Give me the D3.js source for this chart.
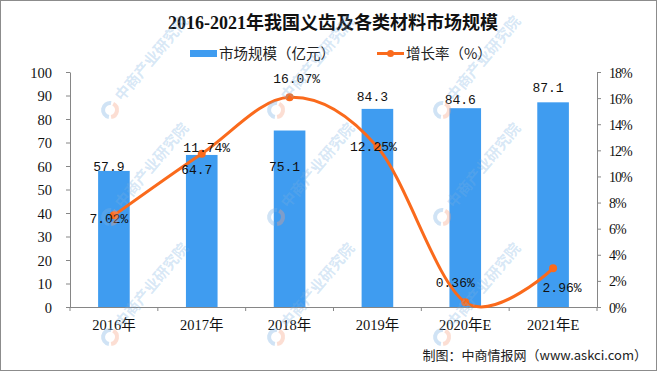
<!DOCTYPE html>
<html><head><meta charset="utf-8">
<script src="https://cdn.jsdelivr.net/npm/d3@7"></script>
<style>html,body{margin:0;padding:0;background:#fff;}svg{display:block;}</style>
</head><body>
<svg id="c" width="657" height="371"></svg>
<script>
const categories = ["2016年","2017年","2018年","2019年","2020年E","2021年E"];
const marketSize = [57.9, 64.7, 75.1, 84.3, 84.6, 87.1];
const growthRate = [7.02, 11.74, 16.07, 12.25, 0.36, 2.96];
const leftTicks = [0,10,20,30,40,50,60,70,80,90,100];
const rightTicks = [0,2,4,6,8,10,12,14,16,18];
const title = "2016-2021年我国义齿及各类材料市场规模";
const legendBar = "市场规模（亿元）";
const legendLine = "增长率（%）";
const source = "制图：中商情报网（www.askci.com）";

const BAR = "#3f9cf0", LINE = "#fa6a1c", AXIS = "#868686";
const svg = d3.select("#c");
svg.append("rect").attr("x",0.5).attr("y",0.5).attr("width",656).attr("height",370)
  .attr("fill","#fff").attr("stroke","#8c8c8c").attr("stroke-width",1);

const L = 70, R = 597, B = 307, T = 72;
const x = d3.scaleBand().domain(categories).range([L,R]).paddingInner(0.64).paddingOuter(0.32);
const yL = d3.scaleLinear().domain([0,100]).range([B,T]);
const yR = d3.scaleLinear().domain([0,18]).range([B,T]);
const cx = d => x(d) + x.bandwidth()/2;

const numFont = "'Liberation Mono', 'DejaVu Sans Mono', monospace";
const axFont = "'Liberation Serif', 'Noto Sans CJK SC', serif";
const cjk = "'Noto Sans CJK SC', sans-serif";

// watermark (decorative, drawn first then overlaid lightly)
function watermark(){
  const wm = svg.append("g").attr("pointer-events","none");
  const cols = [110, 276, 442], rows = [110, 217, 337];
  rows.forEach(ry=>cols.forEach(cxw=>{
    const g = wm.append("g").attr("transform",`translate(${cxw},${ry})`);
    const arc = d3.arc().innerRadius(5).outerRadius(9);
    g.append("path").attr("d",arc({startAngle:Math.PI*0.15,endAngle:Math.PI*0.95})).attr("fill","rgba(245,160,130,0.35)");
    g.append("path").attr("d",arc({startAngle:Math.PI*1.05,endAngle:Math.PI*2.05})).attr("fill","rgba(120,175,225,0.35)");
    g.append("text").attr("transform","translate(12,-8) rotate(-50)")
      .attr("font-family",cjk).attr("font-weight","bold").attr("font-size",15).attr("fill","rgba(120,175,225,0.3)")
      .text("中商产业研究院");
  }));
}

// title
svg.append("text").attr("x",333).attr("y",29).attr("text-anchor","middle")
  .attr("font-family","'Liberation Serif','Noto Sans CJK SC',serif").attr("font-weight","bold")
  .attr("font-size",18).attr("fill","#111").text(title);

// legend
svg.append("rect").attr("x",190).attr("y",50).attr("width",27).attr("height",7).attr("fill",BAR);
svg.append("text").attr("x",219).attr("y",59).attr("font-family",cjk).attr("font-size",14.5).attr("fill","#222").text(legendBar);
svg.append("line").attr("x1",377).attr("x2",404).attr("y1",53.5).attr("y2",53.5).attr("stroke",LINE).attr("stroke-width",3);
svg.append("circle").attr("cx",390.5).attr("cy",53.5).attr("r",3.5).attr("fill",LINE);
svg.append("text").attr("x",406).attr("y",59).attr("font-family",cjk).attr("font-size",14.5).attr("fill","#222").text(legendLine);

// bars
svg.append("g").selectAll("rect").data(categories).join("rect")
  .attr("x",d=>x(d)).attr("width",x.bandwidth())
  .attr("y",(d,i)=>yL(marketSize[i])).attr("height",(d,i)=>B-yL(marketSize[i]))
  .attr("fill",BAR);

// axes
function styleAxis(g){
  g.selectAll(".domain").attr("stroke",AXIS);
  g.selectAll(".tick line").attr("stroke",AXIS);
  g.selectAll("text").attr("fill","#111").attr("font-family",axFont).attr("font-size",14.5);
}
svg.append("g").attr("transform",`translate(${L},0)`)
  .call(d3.axisLeft(yL).tickValues(leftTicks).tickSize(4).tickSizeOuter(0).tickPadding(14))
  .call(styleAxis).call(g=>g.selectAll("text").attr("dy","0.36em"));
svg.append("g").attr("transform",`translate(${R},0)`)
  .call(d3.axisRight(yR).tickValues(rightTicks).tickSize(4).tickSizeOuter(0).tickPadding(8).tickFormat(d=>d+"%"))
  .call(styleAxis).call(g=>g.selectAll("text").attr("font-size",14).attr("letter-spacing","-1px").attr("dy","0.36em"));
// x axis
const xg = svg.append("g");
xg.append("line").attr("x1",L).attr("x2",R).attr("y1",B+0.5).attr("y2",B+0.5).attr("stroke",AXIS);
const bounds = d3.range(categories.length+1).map(i=> L + i*x.step());
xg.selectAll("line.t").data(bounds).join("line").attr("class","t")
  .attr("x1",d=>d).attr("x2",d=>d).attr("y1",B).attr("y2",B+4).attr("stroke",AXIS);
xg.selectAll("text").data(categories).join("text")
  .attr("x",d=>cx(d)).attr("y",330).attr("text-anchor","middle")
  .attr("font-family",axFont).attr("font-size",14.5).attr("fill","#111").text(d=>d);

// line
const pts = categories.map((d,i)=>[cx(d), yR(growthRate[i])]);
svg.append("path").attr("d", d3.line().curve(d3.curveCardinal.tension(0))(pts))
  .attr("fill","none").attr("stroke",LINE).attr("stroke-width",3);
svg.append("g").selectAll("circle").data(pts).join("circle")
  .attr("cx",d=>d[0]).attr("cy",d=>d[1]).attr("r",4).attr("fill",LINE);

// bar labels (nudges relative to bar top)
const barLabelDy = [0, 19, 40, -8, -4, -10];
svg.append("g").selectAll("text").data(categories).join("text")
  .attr("x",d=>cx(d)-5).attr("y",(d,i)=>yL(marketSize[i])+barLabelDy[i])
  .attr("text-anchor","middle").attr("font-family",numFont).attr("font-size",13).attr("fill","#111")
  .text((d,i)=>marketSize[i].toFixed(1));
// growth labels (nudges relative to point)
const lineLabelDx = [-5, 5, 7, -4, -10, 9];
const lineLabelDy = [8, -2, -14, 4, -15, 24];
svg.append("g").selectAll("text").data(categories).join("text")
  .attr("x",(d,i)=>cx(d)+lineLabelDx[i]).attr("y",(d,i)=>yR(growthRate[i])+lineLabelDy[i])
  .attr("text-anchor","middle").attr("font-family",numFont).attr("font-size",13).attr("fill","#111")
  .text((d,i)=>growthRate[i].toFixed(2)+"%");

// source
svg.append("text").attr("x",647).attr("y",360).attr("text-anchor","end")
  .attr("font-family",cjk).attr("font-size",13).attr("fill","#222").text(source);

watermark();
</script>
</body></html>
